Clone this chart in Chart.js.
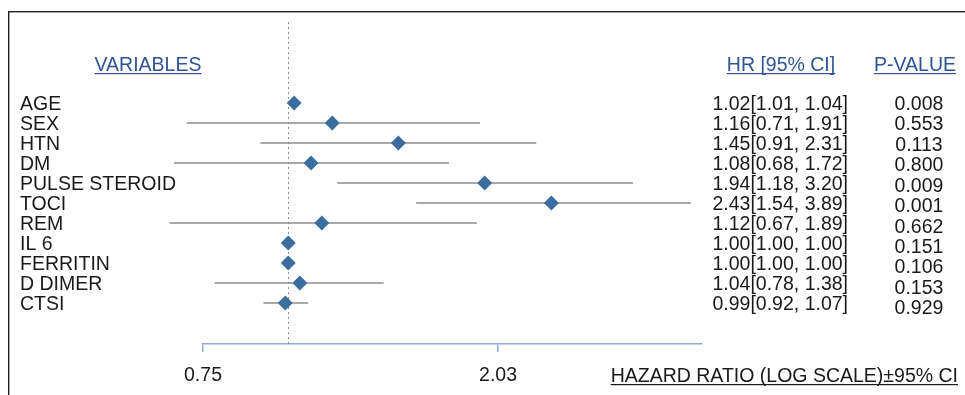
<!DOCTYPE html>
<html lang="en">
<head>
<meta charset="UTF-8" />
<title>Hazard ratio forest plot</title>
<script src="https://cdn.jsdelivr.net/npm/chart.js"></script>
<style>
  html, body { margin: 0; padding: 0; background: #fff; }
  #wrap { position: relative; width: 965px; height: 395px; }
</style>
</head>
<body>
<div id="wrap"><canvas id="forest" width="965" height="395"></canvas></div>
<script>
  // values
  const variables = ['AGE', 'SEX', 'HTN', 'DM', 'PULSE STEROID', 'TOCI', 'REM', 'IL 6', 'FERRITIN', 'D DIMER', 'CTSI'];
  const hr = [1.02, 1.16, 1.45, 1.08, 1.94, 2.43, 1.12, 1.00, 1.00, 1.04, 0.99];
  const ciLow = [1.01, 0.71, 0.91, 0.68, 1.18, 1.54, 0.67, 1.00, 1.00, 0.78, 0.92];
  const ciHigh = [1.04, 1.91, 2.31, 1.72, 3.20, 3.89, 1.89, 1.00, 1.00, 1.38, 1.07];
  const pValues = ['0.008', '0.553', '0.113', '0.800', '0.009', '0.001', '0.662', '0.151', '0.106', '0.153', '0.929'];
  const xTicks = [0.75, 2.03];
  const xMin = 0.75;
  const xMax = 4.04;
  const refValue = 1;

  const FONT = '"Liberation Sans", Arial, sans-serif';
  const textColor = '#1a1a1a';
  const headColor = '#2F5597';

  const fmt = v => v.toFixed(2);
  const hrText = hr.map((v, i) => fmt(v) + '[' + fmt(ciLow[i]) + ', ' + fmt(ciHigh[i]) + ']');

  function underlined(ctx, text, x, y, align, color) {
    ctx.fillStyle = color;
    ctx.textAlign = align;
    ctx.textBaseline = 'alphabetic';
    ctx.fillText(text, x, y);
    const w = ctx.measureText(text).width;
    let x0 = x;
    if (align === 'center') x0 = x - w / 2;
    if (align === 'right') x0 = x - w;
    ctx.fillRect(x0, y + 2, w, 1.2);
  }

  const extras = {
    id: 'extras',
    beforeDatasetsDraw(chart) {
      const ctx = chart.ctx;
      const xs = chart.scales.x;
      const area = chart.chartArea;
      ctx.save();
      // frame on top and left
      ctx.fillStyle = '#222';
      ctx.fillRect(8, 11, 957, 1.4);
      ctx.fillRect(8, 11, 1.4, 384);
      // reference line at HR = 1
      const rx = Math.round(xs.getPixelForValue(refValue)) + 0.5;
      ctx.strokeStyle = '#8a8a8a';
      ctx.lineWidth = 1;
      ctx.setLineDash([2, 3]);
      ctx.beginPath();
      ctx.moveTo(rx, area.top);
      ctx.lineTo(rx, area.bottom);
      ctx.stroke();
      ctx.restore();
    },
    afterDraw(chart) {
      const ctx = chart.ctx;
      const ys = chart.scales.y;
      ctx.save();
      ctx.font = '19.5px ' + FONT;
      const hy = ys.getPixelForValue(-2) + 8;
      underlined(ctx, 'VARIABLES', 148, hy, 'center', headColor);
      underlined(ctx, 'HR [95% CI]', 781, hy, 'center', headColor);
      underlined(ctx, 'P-VALUE', 915, hy, 'center', headColor);

      ctx.fillStyle = textColor;
      ctx.textBaseline = 'middle';
      variables.forEach((name, i) => {
        const y = ys.getPixelForValue(i) + 1.5;
        ctx.textAlign = 'right';
        ctx.fillText(hrText[i], 848, y);
        ctx.textAlign = 'center';
        ctx.fillText(pValues[i], 919, y + i * 0.45);
      });

      underlined(ctx, 'HAZARD RATIO (LOG SCALE)\u00B195% CI', 958, 382, 'right', textColor);
      ctx.restore();
    }
  };

  const ciSets = variables.map((name, i) => ({
    label: name + ' CI',
    data: [{ x: ciLow[i], y: i }, { x: ciHigh[i], y: i }],
    showLine: true,
    borderColor: '#8c8c8c',
    borderWidth: 1.5,
    pointRadius: 0,
    clip: false,
    order: 2
  }));

  const hrSet = {
    label: 'HR',
    data: hr.map((v, i) => ({ x: v, y: i })),
    pointStyle: 'rectRot',
    pointRadius: 7.5,
    pointHoverRadius: 7.5,
    backgroundColor: '#3B6E9E',
    borderColor: '#3B6E9E',
    borderWidth: 0,
    clip: false,
    order: 1
  };

  new Chart(document.getElementById('forest'), {
    type: 'scatter',
    data: { datasets: [...ciSets, hrSet] },
    options: {
      responsive: false,
      animation: false,
      events: [],
      layout: { padding: { left: 20, right: 263, top: 22, bottom: 0 } },
      plugins: { legend: { display: false }, tooltip: { enabled: false } },
      scales: {
        x: {
          type: 'logarithmic',
          min: xMin,
          max: xMax,
          afterBuildTicks: s => { s.ticks = xTicks.map(v => ({ value: v })); },
          afterFit: s => { s.height = 51; },
          ticks: {
            callback: v => Number(v).toFixed(2),
            font: { family: FONT, size: 19.5 },
            color: textColor,
            padding: 12,
            maxRotation: 0,
            autoSkip: false
          },
          grid: { drawOnChartArea: false, tickLength: 8, color: '#8FAADC', lineWidth: 1.5 },
          border: { color: '#8FAADC', width: 1.6 }
        },
        y: {
          type: 'linear',
          reverse: true,
          min: -4.05,
          max: 12.05,
          afterBuildTicks: s => { s.ticks = variables.map((v, i) => ({ value: i })); },
          afterFit: s => { s.width = 183; },
          ticks: {
            callback: v => variables[v],
            font: { family: FONT, size: 19.5 },
            color: textColor,
            crossAlign: 'far',
            padding: 0,
            labelOffset: 1.5,
            autoSkip: false
          },
          grid: { display: false },
          border: { display: false }
        }
      }
    },
    plugins: [extras]
  });
</script>
</body>
</html>
